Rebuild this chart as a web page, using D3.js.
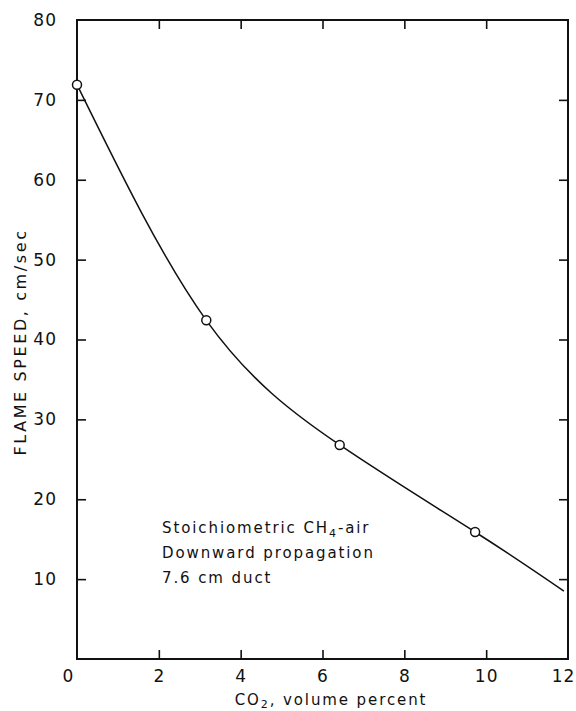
<!DOCTYPE html>
<html>
<head>
<meta charset="utf-8">
<script src="https://cdn.jsdelivr.net/npm/d3@7"></script>
<style>
  body { margin: 0; background: #fff; }
  text { font-family: "DejaVu Sans", sans-serif; fill: #111; }
</style>
</head>
<body>
<div id="chart-area"></div>
<script>
// measured points (open circles)
const co2Measured = [0, 3.16, 6.42, 9.73];
const speedMeasured = [71.9, 42.4, 26.8, 15.9];

// drawn curve
const curveCo2 = [0, 3.16, 6.42, 9.73, 11.9];
const curveSpeed = [71.9, 42.4, 26.8, 15.9, 8.5];

// tick labels
const xTicks = [0, 2, 4, 6, 8, 10, 12];
const yTicks = [10, 20, 30, 40, 50, 60, 70, 80];

const noteLines = ['Stoichiometric CH', 'Downward propagation', '7.6 cm duct'];

const width = 576;
const height = 711;
const margin = { left: 77, top: 20, right: 8, bottom: 52 };
const innerW = width - margin.left - margin.right;
const innerH = height - margin.top - margin.bottom;

const svg = d3.select('#chart-area').append('svg')
    .attr('width', width)
    .attr('height', height);

const g = svg.append('g')
    .attr('transform', `translate(${margin.left}, ${margin.top})`);

const x = d3.scaleLinear().domain([0, 12]).range([0, innerW]);
const y = d3.scaleLinear().domain([0, 80]).range([innerH, 0]);

// axes with inward ticks on all four sides
const tickLen = 9;
function styleAxis(sel) {
    sel.select('.domain').remove();
    sel.selectAll('line').attr('stroke', '#111').attr('stroke-width', 1.6);
    sel.selectAll('text')
        .attr('font-size', '17px')
        .attr('letter-spacing', '1px')
        .attr('fill', '#111');
}

const xAxisGroup = g.append('g')
    .attr('transform', `translate(0, ${innerH})`)
    .call(d3.axisBottom(x).tickValues(xTicks).tickSize(-tickLen).tickPadding(11).tickFormat(d3.format('d')))
    .call(styleAxis);
xAxisGroup.selectAll('.tick').filter(d => d === 0).select('text').attr('x', -9);
xAxisGroup.selectAll('.tick').filter(d => d === 12).select('text').attr('x', -5);
xAxisGroup.selectAll('.tick').filter(d => d === 0 || d === 12).select('line').remove();

g.append('g')
    .call(d3.axisTop(x).tickValues(xTicks.slice(1, -1)).tickSize(-tickLen).tickFormat(''))
    .call(styleAxis);

const yAxisGroup = g.append('g')
    .call(d3.axisLeft(y).tickValues(yTicks).tickSize(-tickLen).tickPadding(20))
    .call(styleAxis);
yAxisGroup.selectAll('.tick').filter(d => d === 80).select('line').remove();

g.append('g')
    .attr('transform', `translate(${innerW}, 0)`)
    .call(d3.axisRight(y).tickValues(yTicks.slice(0, -1)).tickSize(-tickLen).tickFormat(''))
    .call(styleAxis);

// frame
g.append('rect')
    .attr('x', 0).attr('y', 0)
    .attr('width', innerW).attr('height', innerH)
    .attr('fill', 'none')
    .attr('stroke', '#111')
    .attr('stroke-width', 2);

// curve
const curveData = curveCo2.map((c, i) => [c, curveSpeed[i]]);
g.append('path')
    .datum(curveData)
    .attr('fill', 'none')
    .attr('stroke', '#111')
    .attr('stroke-width', 1.5)
    .attr('d', d3.line().x(d => x(d[0])).y(d => y(d[1])).curve(d3.curveNatural));

// measured points
g.selectAll('circle.pt')
    .data(co2Measured.map((c, i) => [c, speedMeasured[i]]))
    .enter().append('circle')
    .attr('class', 'pt')
    .attr('cx', d => x(d[0]))
    .attr('cy', d => y(d[1]))
    .attr('r', 4.5)
    .attr('fill', '#fff')
    .attr('stroke', '#111')
    .attr('stroke-width', 1.5);

// annotation
const note = g.append('text')
    .attr('font-size', '15px')
    .attr('letter-spacing', '1.9px');
noteLines.forEach((line, i) => {
    const t = note.append('tspan')
        .attr('x', 85)
        .attr('y', 513 + i * 25)
        .text(line);
    if (i === 0) {
        t.append('tspan').attr('dy', 4).attr('font-size', '11px').text('4');
        t.append('tspan').attr('dy', -4).text('-air');
    }
});

// x axis title
const xt = svg.append('text')
    .attr('x', 331)
    .attr('y', 705)
    .attr('text-anchor', 'middle')
    .attr('font-size', '15px')
    .attr('letter-spacing', '1.9px');
xt.append('tspan').text('CO');
xt.append('tspan').attr('dy', 3).attr('font-size', '11px').text('2');
xt.append('tspan').attr('dy', -3).text(', volume percent');

// y axis title
svg.append('text')
    .attr('transform', 'translate(26, 342) rotate(-90)')
    .attr('text-anchor', 'middle')
    .attr('font-size', '16px')
    .attr('letter-spacing', '2.6px')
    .text('FLAME SPEED, cm/sec');
</script>
</body>
</html>
